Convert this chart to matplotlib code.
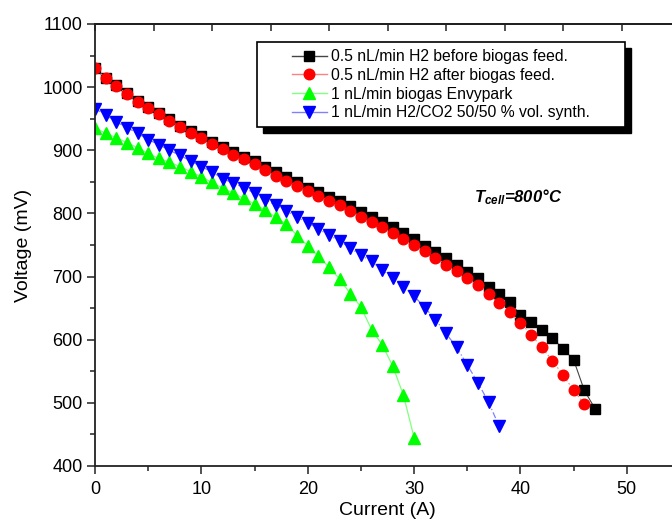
import matplotlib
matplotlib.use("Agg")
import matplotlib.pyplot as plt
from matplotlib.lines import Line2D
from matplotlib.patches import Rectangle
from matplotlib.transforms import IdentityTransform
from matplotlib.ticker import MultipleLocator

plt.rcParams["font.family"] = ["Liberation Sans", "DejaVu Sans"]
plt.rcParams["mathtext.fontset"] = "custom"
plt.rcParams["mathtext.it"] = "Liberation Sans:italic:bold"
plt.rcParams["mathtext.rm"] = "Liberation Sans:bold"

# polarisation curves, current in A, voltage in mV
current_h2_before = list(range(0, 48))
voltage_h2_before = [1030, 1014, 1003, 990, 978, 969, 959, 949, 939, 930,
                     922, 913, 905, 897, 890, 883, 874, 865, 857, 849,
                     841, 834, 826, 820, 811, 803, 795, 787, 778, 769,
                     759, 749, 739, 729, 718, 707, 697, 684, 672, 660,
                     639, 628, 616, 602, 586, 568, 520, 491]

current_h2_after = list(range(0, 47))
voltage_h2_after = [1030, 1014, 1002, 989, 977, 967, 957, 947, 937, 928,
                    919, 910, 902, 893, 886, 878, 869, 860, 852, 844,
                    835, 828, 820, 813, 804, 795, 787, 779, 769, 760,
                    750, 740, 730, 719, 709, 697, 686, 672, 658, 644,
                    627, 608, 588, 567, 544, 520, 498]

current_biogas = list(range(0, 31))
voltage_biogas = [935, 927, 920, 912, 904, 895, 887, 881, 874, 866,
                  858, 849, 840, 832, 824, 815, 805, 794, 783, 765,
                  749, 732, 715, 696, 673, 652, 616, 592, 558, 512, 445]

current_synth = list(range(0, 39))
voltage_synth = [966, 956, 945, 936, 927, 917, 909, 900, 892, 883,
                 874, 866, 855, 848, 841, 832, 822, 813, 804, 794,
                 785, 775, 766, 756, 745, 734, 724, 711, 697, 684,
                 669, 651, 632, 610, 588, 560, 532, 501, 463]

labels = ["0.5 nL/min H2 before biogas feed.",
          "0.5 nL/min H2 after biogas feed.",
          "1 nL/min biogas Envypark",
          "1 nL/min H2/CO2 50/50 % vol. synth."]

fig = plt.figure(figsize=(6.72, 5.22), dpi=100)
ax = fig.add_axes([95 / 672, 56 / 522, 585 / 672, 442 / 522])

ax.plot(current_h2_before, voltage_h2_before, color="#444444", lw=0.8, ls="-",
        marker="s", ms=7, mfc="black", mec="black")
ax.plot(current_h2_after, voltage_h2_after, color="#ff8080", lw=0.8, ls=(0, (1.5, 2)),
        marker="o", ms=7.6, mfc="red", mec="red")
ax.plot(current_biogas, voltage_biogas, color="#80ff80", lw=0.9, ls="-",
        marker="^", ms=8.2, mfc="#00ff00", mec="#00ff00")
ax.plot(current_synth, voltage_synth, color="#8080ff", lw=0.9, ls=(0, (5, 2, 1, 2)),
        marker="v", ms=8.2, mfc="blue", mec="blue")

ax.set_xlim(0, 55)
ax.set_ylim(400, 1100)
ax.xaxis.set_major_locator(MultipleLocator(10))
ax.xaxis.set_minor_locator(MultipleLocator(5))
ax.yaxis.set_major_locator(MultipleLocator(100))
ax.yaxis.set_minor_locator(MultipleLocator(50))
ax.tick_params(which="both", direction="out", width=1.1, color="#222222",
               labelsize=13, top=False, right=False)
ax.tick_params(which="major", length=6)
ax.tick_params(which="minor", length=3.5)
ax.tick_params(axis="y", pad=3)
ax.tick_params(axis="x", pad=5)
for s in ax.spines.values():
    s.set_linewidth(1.3)
    s.set_color("#222222")

ax.set_xlabel("Current (A)", fontsize=14, labelpad=3)
ax.set_ylabel("Voltage (mV)", fontsize=14, labelpad=7)

# second scales on top and right (labels fall outside the figure)
top = ax.secondary_xaxis("top", functions=(lambda x: x / 5.5, lambda x: x * 5.5))
top.set_xticks(range(0, 11))
top.tick_params(direction="in", length=5, width=1.1, color="#222222", labeltop=False)
top.spines["top"].set_linewidth(1.3)
right = ax.secondary_yaxis("right", functions=(lambda v: (v - 400) / 140,
                                               lambda r: r * 140 + 400))
right.set_yticks([1, 2, 3, 4])
right.tick_params(direction="in", length=5, width=1.1, color="#222222", labelright=False)

ax.text(35.6, 826, r"$T_{cell}$=800°C", fontsize=12, fontweight="bold",
        fontstyle="italic", ha="left", va="center")

handles = [
    Line2D([], [], color="#444444", lw=1, marker="s", ms=7, mfc="black", mec="black"),
    Line2D([], [], color="#ff8080", lw=1, marker="o", ms=7.6, mfc="red", mec="red"),
    Line2D([], [], color="#80ff80", lw=1, marker="^", ms=8.2, mfc="#00ff00", mec="#00ff00"),
    Line2D([], [], color="#8080ff", lw=1, marker="v", ms=8.2, mfc="blue", mec="blue"),
]
leg = ax.legend(handles, labels, loc="upper left", bbox_to_anchor=(0.337, 0.943),
                frameon=False, fontsize=11.3, handlelength=2.2, handletextpad=0.3,
                labelspacing=0.24, borderpad=0, borderaxespad=0)

# boxed legend with a solid drop shadow
fig.canvas.draw()
bb = leg.get_window_extent()
x0, y0 = bb.x0 - 35, bb.y0 - 7
w, h = bb.width + 70, bb.height + 14
ax.add_patch(Rectangle((x0 + 6, y0 - 6), w, h, transform=IdentityTransform(),
                       facecolor="black", edgecolor="black", zorder=4, clip_on=False))
ax.add_patch(Rectangle((x0, y0), w, h, transform=IdentityTransform(),
                       facecolor="white", edgecolor="black", lw=1.2, zorder=4.5, clip_on=False))

fig.savefig("out.png", dpi=100)
